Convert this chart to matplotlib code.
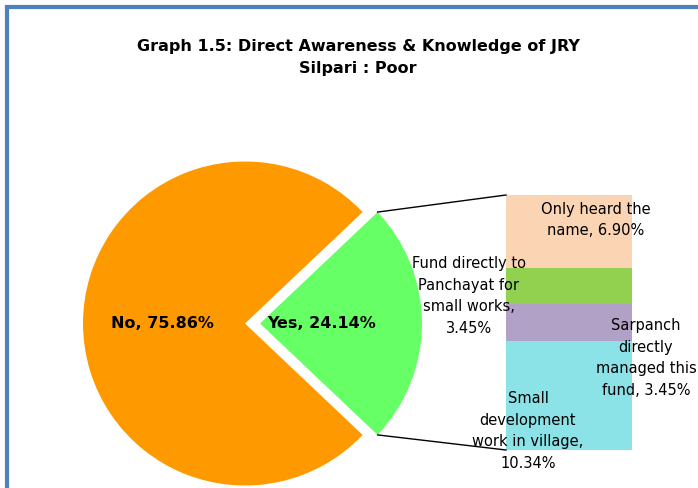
import matplotlib
matplotlib.use("Agg")
import numpy as np
import matplotlib.pyplot as plt
from matplotlib.patches import Rectangle

# pie data
pie_labels = ["No", "Yes"]
pie_values = [75.86, 24.14]

# breakdown of "Yes" (bottom to top)
bar_labels = ["Small\ndevelopment\nwork in village,\n10.34%",
              "Sarpanch\ndirectly\nmanaged this\nfund, 3.45%",
              "Fund directly to\nPanchayat for\nsmall works,\n3.45%",
              "Only heard the\nname, 6.90%"]
bar_values = [10.34, 3.45, 3.45, 6.90]

pie_colors = ["#FF9900", "#66FF66"]
bar_colors = ["#8BE3E8", "#B2A1C7", "#92D050", "#FBD4B4"]

plt.rcParams['font.family'] = ['DejaVu Sans']

W, H = 698, 488
fig = plt.figure(figsize=(W / 100, H / 100), dpi=100)
ax = fig.add_axes([0, 0, 1, 1])

# pie, in pixel-like data coords (y up)
cx, cy, r = 245, H - 323.5, 162
gap = 15
yes_angle = pie_values[1] / 100 * 360
wedges, _ = ax.pie(pie_values, colors=pie_colors, radius=r, center=(cx, cy),
                   startangle=yes_angle / 2, explode=[0, gap],
                   wedgeprops=dict(linewidth=0), frame=True)
ax.text(162, cy, "No, 75.86%", ha="center", va="center", fontsize=11.5, fontweight="bold")
ax.text(322, cy, "Yes, 24.14%", ha="center", va="center", fontsize=11.5, fontweight="bold")

# stacked bar of the "Yes" slice
bx, bw = 569, 126
scale = 255 / sum(bar_values)
bottom = H - 450
for v, c in zip(bar_values, bar_colors):
    ax.bar(bx, v * scale, bottom=bottom, width=bw, color=c, linewidth=0)
    bottom += v * scale
bar_top = bottom

# connector lines from wedge to bar
yw = wedges[1]
ox = cx + gap
t1 = np.radians(yw.theta1)
t2 = np.radians(yw.theta2)
ax.plot([ox + r * np.cos(t2), bx - bw / 2], [cy + r * np.sin(t2), bar_top], color="black", lw=1)
ax.plot([ox + r * np.cos(t1), bx - bw / 2], [cy + r * np.sin(t1), H - 450], color="black", lw=1)

# bar labels
label_pos = [(528, H - 431), (646, H - 358), (469, H - 296), (596, H - 220)]
for (x, y), lab in zip(label_pos, bar_labels):
    ax.text(x, y, lab, ha="center", va="center", fontsize=10.5, linespacing=1.55)

ax.text(358, H - 46, "Graph 1.5: Direct Awareness & Knowledge of JRY", ha="center", va="center",
        fontsize=11.5, fontweight="bold")
ax.text(358, H - 69, "Silpari : Poor", ha="center", va="center", fontsize=11.5, fontweight="bold")

ax.set_xlim(0, W)
ax.set_ylim(0, H)
ax.set_aspect("auto")
ax.axis("off")

# chart-area border (blue, cut at right/bottom)
fig.patches.append(Rectangle((7 / W, -0.1), 1.2, 1.1 - 7.5 / H, transform=fig.transFigure,
                             fill=False, edgecolor="#4F81BD", linewidth=3))

fig.savefig("out.png", dpi=100)
